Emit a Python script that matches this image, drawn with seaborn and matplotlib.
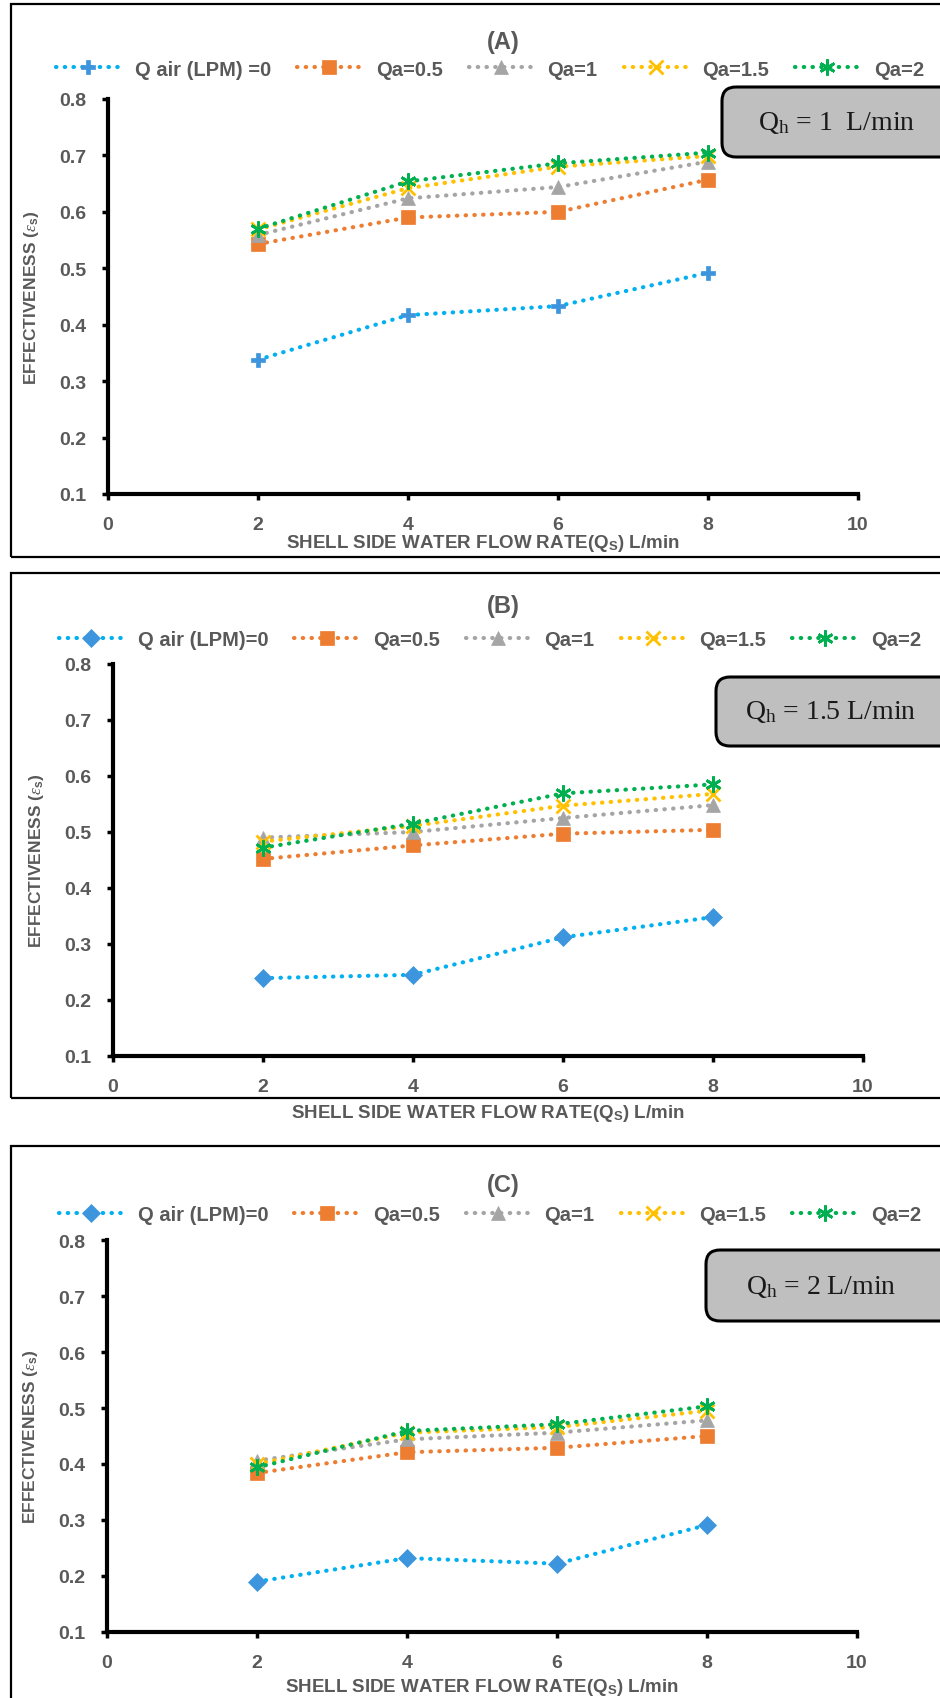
import matplotlib
matplotlib.use('Agg')
import matplotlib.pyplot as plt
from matplotlib.patches import Rectangle, FancyBboxPatch
from matplotlib.lines import Line2D
from matplotlib.transforms import IdentityTransform
import numpy as np
import pandas as pd
import seaborn as sns

# shell side water flow rate (L/min)
qs = [2, 4, 6, 8]

# effectiveness, panel A (Qh = 1 L/min)
a_qa0 = [0.338, 0.417, 0.433, 0.492]
a_qa05 = [0.543, 0.590, 0.600, 0.657]
a_qa1 = [0.559, 0.624, 0.644, 0.689]
a_qa15 = [0.569, 0.642, 0.680, 0.699]
a_qa2 = [0.570, 0.654, 0.686, 0.705]

# panel B (Qh = 1.5 L/min)
b_qa0 = [0.239, 0.245, 0.312, 0.348]
b_qa05 = [0.452, 0.476, 0.497, 0.504]
b_qa1 = [0.490, 0.500, 0.525, 0.548]
b_qa15 = [0.483, 0.511, 0.547, 0.568]
b_qa2 = [0.472, 0.515, 0.569, 0.585]

# panel C (Qh = 2 L/min)
c_qa0 = [0.190, 0.232, 0.222, 0.291]
c_qa05 = [0.384, 0.421, 0.429, 0.450]
c_qa1 = [0.406, 0.444, 0.456, 0.478]
c_qa15 = [0.400, 0.456, 0.466, 0.495]
c_qa2 = [0.394, 0.459, 0.471, 0.503]

series_names = ['Qa=0.5', 'Qa=1', 'Qa=1.5', 'Qa=2']
panel_titles = ['(A)', '(B)', '(C)']
first_labels = ['Q air (LPM) =0', 'Q air (LPM)=0', 'Q air (LPM)=0']
box_texts = ['Q$_\\mathrm{h}$ = 1  L/min', 'Q$_\\mathrm{h}$ = 1.5 L/min', 'Q$_\\mathrm{h}$ = 2 L/min']

sns.set_style('ticks')
plt.rcParams['font.family'] = ['Liberation Sans', 'DejaVu Sans']
plt.rcParams['mathtext.fontset'] = 'custom'
plt.rcParams['mathtext.rm'] = 'Liberation Serif'
plt.rcParams['mathtext.it'] = 'Liberation Serif:italic'
plt.rcParams['mathtext.bf'] = 'Liberation Sans:bold'

W, H = 940, 1699
fig = plt.figure(figsize=(W / 100, H / 100), dpi=100)

gray_txt = '#595959'
line_colors = ['#00B0F0', '#ED7D31', '#A5A5A5', '#FFC000', '#00B050']
marker_colors = ['#3D95DD', '#ED7D31', '#A5A5A5', '#FFC000', '#00B050']
star = (6, 2, 0)

# pixel layout of each panel
panels = [
    dict(data=[a_qa0, a_qa05, a_qa1, a_qa15, a_qa2], left=108, top=100, bottom=495,
         frame=(5, 558), box=(722, 88, 158), title_y=42, leg_y=70, m0='P', xl=-0.095),
    dict(data=[b_qa0, b_qa05, b_qa1, b_qa15, b_qa2], left=113, top=665, bottom=1057,
         frame=(574, 1099), box=(716, 678, 747), title_y=606, leg_y=641, m0='D', xl=-0.118),
    dict(data=[c_qa0, c_qa05, c_qa1, c_qa15, c_qa2], left=107, top=1241, bottom=1633,
         frame=(1147, 1712), box=(706, 1251, 1322), title_y=1186, leg_y=1216, m0='D', xl=-0.112),
]

for i, p in enumerate(panels):
    # panel frame
    f0, f1 = p['frame']
    fig.patches.append(Rectangle((11 / W, 1 - f1 / H), 1.0, (f1 - f0) / H,
                                 transform=fig.transFigure, fill=False,
                                 ec='black', lw=1.6, zorder=0))

    ax = fig.add_axes([p['left'] / W, 1 - p['bottom'] / H, 750 / W,
                       (p['bottom'] - p['top']) / H])
    markers = [p['m0'], 's', '^', 'x', star]
    msizes = [9.5, 10.5, 10.5, 10.5, 11.5]
    labels = [first_labels[i]] + series_names
    handles = []
    for k, vals in enumerate(p['data']):
        df = pd.DataFrame({'qs': qs, 'eff': vals})
        style = dict(color=line_colors[k], linestyle=(0, (0.1, 2.0)),
                     dash_capstyle='round', lw=3, marker=markers[k],
                     markersize=msizes[k], markerfacecolor=marker_colors[k],
                     markeredgecolor=marker_colors[k],
                     markeredgewidth=2 if k >= 3 else 0.5)
        sns.lineplot(data=df, x='qs', y='eff', ax=ax, zorder=3 + k, **style)
        handles.append(Line2D([], [], **style))

    ax.set_xlim(0, 10)
    ax.set_ylim(0.1, 0.8)
    ax.set_xticks([0, 2, 4, 6, 8, 10])
    ax.set_yticks(np.round(np.arange(0.1, 0.81, 0.1), 1))
    ax.set_yticklabels([f'{v:.1f}' for v in np.arange(0.1, 0.81, 0.1)])
    for s in ['top', 'right']:
        ax.spines[s].set_visible(False)
    for s in ['left', 'bottom']:
        ax.spines[s].set_linewidth(3)
        ax.spines[s].set_color('black')
    ax.tick_params(axis='both', direction='out', length=4.5, width=2.5, color='black',
                   labelsize=14, labelcolor=gray_txt, pad=11)
    for t in ax.get_xticklabels() + ax.get_yticklabels():
        t.set_fontweight('bold')

    ax.set_xlabel('SHELL SIDE WATER FLOW RATE(Q$_\\mathbf{S}$) L/min', fontsize=13.5,
                  fontweight='bold', color=gray_txt)
    ax.set_ylabel('EFFECTIVENESS ($\\varepsilon_\\mathbf{s}$)', fontsize=12.5,
                  fontweight='bold', color=gray_txt)
    ax.xaxis.set_label_coords(0.5, p['xl'])
    ax.yaxis.set_label_coords(-0.089, 0.5)

    fig.text(503 / W, 1 - p['title_y'] / H, panel_titles[i], ha='center', va='center',
             fontsize=17, fontweight='bold', color=gray_txt)

    leg = fig.legend(handles, labels, ncol=5, loc='center',
                     bbox_to_anchor=(490 / W, 1 - p['leg_y'] / H),
                     bbox_transform=fig.transFigure, frameon=False,
                     handlelength=3.2, handletextpad=0.7, columnspacing=1.3,
                     prop={'size': 14.5, 'weight': 'bold'})
    for t in leg.get_texts():
        t.set_color(gray_txt)

    # Qh annotation box, in pixels
    bx, by0, by1 = p['box']
    fig.patches.append(FancyBboxPatch((bx, H - by1), 300, by1 - by0,
                                      boxstyle='round,pad=0,rounding_size=14',
                                      transform=IdentityTransform(), fc='#BFBFBF',
                                      ec='black', lw=2.2, zorder=5))
    fig.text((bx + 115) / W, 1 - (by0 + by1) / 2 / H, box_texts[i], ha='center',
             va='center', fontsize=20, family='Liberation Serif', color='#1a1a1a', zorder=6)

fig.savefig('out.png', dpi=100)
